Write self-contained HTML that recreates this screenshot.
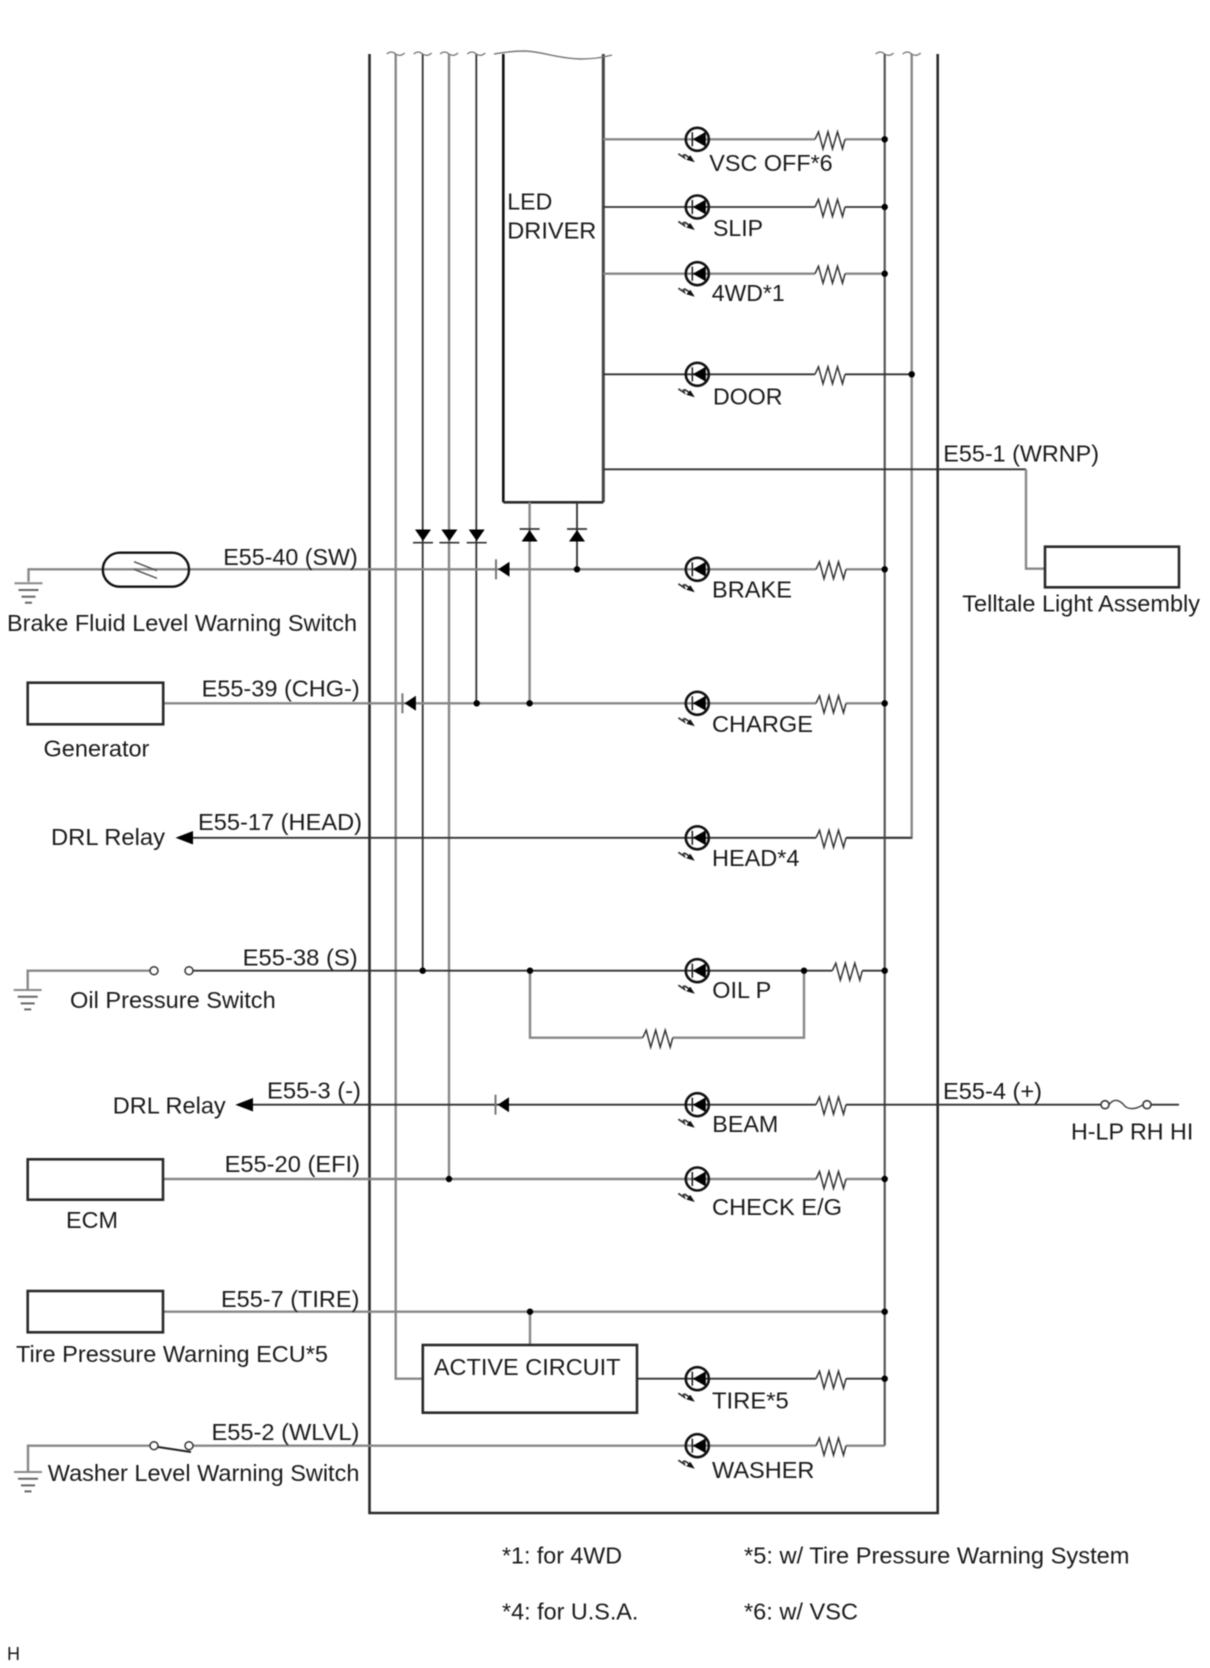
<!DOCTYPE html>
<html><head><meta charset="utf-8"><title>Combination meter circuit</title>
<style>
html,body{margin:0;padding:0;background:#fff}
svg{display:block;filter:blur(0.45px)}
text{font-family:"Liberation Sans",sans-serif;font-size:23px;fill:#1a1a1a}
.d{stroke:#333;stroke-width:1.8;fill:none}
.g{stroke:#888;stroke-width:2.4;fill:none}
.k{stroke:#2a2a2a;stroke-width:2.6;fill:none}
</style></head><body>
<svg xmlns="http://www.w3.org/2000/svg" width="1210" height="1668" viewBox="0 0 1210 1668">
<defs>
<g id="led">
<circle cx="0" cy="0" r="11.5" fill="none" stroke="#111" stroke-width="2.6"/>
<path d="M-4.5,0 L8.5,-7.5 L8.5,7.5 Z" fill="#000"/>
<path d="M-5,-7 V7" stroke="#222" stroke-width="1.6"/>
<path d="M-19,14.5 L-13,18.5 L-14,15 M-13,15 L-6,19.5" stroke="#333" stroke-width="1.7" fill="none"/>
<path d="M-2.5,23 L-11,20.5 L-7,16 Z" fill="#111"/>
</g>
<g id="res">
<path d="M0,0 H30" stroke="#fff" stroke-width="5"/>
<path d="M0,0 L3.5,-7.5 L8,9.5 L13,-7.5 L17.5,9.5 L22.5,-7.5 L27.5,9.5 L30,0" fill="none" stroke="#333" stroke-width="1.5"/>
</g>
<g id="wave"><path d="M-9,0 q4.5,-4 9,0 q4.5,3 9,-1" fill="none" stroke="#777" stroke-width="1.3"/></g>
<g id="gnd">
<path d="M-14,0 H14" stroke="#888" stroke-width="2"/>
<path d="M-10,6.7 H10" stroke="#666" stroke-width="2"/>
<path d="M-7,13.4 H7" stroke="#666" stroke-width="2"/>
<path d="M-3.5,19.4 H3.5" stroke="#666" stroke-width="2"/>
</g>
<g id="dn"><path d="M-8,0 H8 L0,11.5 Z" fill="#000"/><path d="M-10,13.2 H10" stroke="#333" stroke-width="1.7"/></g>
<g id="up"><path d="M-8,12.5 H8 L0,1 Z" fill="#000"/><path d="M-10,0 H10" stroke="#333" stroke-width="1.7"/></g>
<g id="lf"><path d="M2.2,0 L13.5,-7.5 V7.5 Z" fill="#000"/><path d="M0,-10 V10" stroke="#777" stroke-width="2"/></g>
</defs>

<!-- frame -->
<path class="k" d="M369.5,54 V1513 H937.7 V54"/>
<!-- LED driver -->
<path d="M503.3,54 V502.3" stroke="#111" stroke-width="2.6" fill="none"/>
<path d="M603.3,54 V502.3" stroke="#444" stroke-width="3" fill="none"/>
<path class="k" d="M503.3,502.3 H603.3"/>
<path d="M494,54 C505,52 515,51 525,51 C545,52 555,58 580,59 C595,59 605,57 612,55" fill="none" stroke="#777" stroke-width="1.4"/>

<!-- verticals -->
<path class="g" d="M395.7,54 V1378.7 H422.8"/>
<path class="d" d="M422.7,54 V970.7"/>
<path class="g" d="M449,54 V1179"/>
<path class="d" d="M476.3,54 V703.3"/>
<path class="g" d="M529.6,502.3 V703.3"/>
<path class="d" d="M577,502.3 V569.3"/>
<path class="d" d="M884.7,54 V1445.7" style="stroke-width:2.2;stroke:#555"/>
<path class="g" d="M911.7,54 V837.8 H816"/>
<use href="#wave" x="395.7" y="54"/><use href="#wave" x="422.7" y="54"/><use href="#wave" x="449" y="54"/><use href="#wave" x="476.3" y="54"/><use href="#wave" x="884.7" y="54"/><use href="#wave" x="911.7" y="54"/>

<!-- rows -->
<path class="g" d="M603.3,139.3 H884.7"/>
<path class="d" d="M603.3,207 H884.7"/>
<path class="g" d="M603.3,273.7 H884.7"/>
<path class="d" d="M603.3,374.3 H911.7"/>
<path class="d" d="M603.3,469.3 H1026"/>
<path class="g" d="M1026,469.3 V568.7 H1045"/>
<path class="g" d="M28.5,581.7 V569.3 H884.7"/>
<path class="g" d="M163.2,703.3 H884.7"/>
<path class="d" d="M190,837.8 H911.7"/>
<path class="g" d="M27.7,989 V970.7 H150.5"/>
<path class="d" d="M193,970.7 H884.7"/>
<path class="g" d="M530,970.7 V1037.7 H804 V970.7"/>
<path class="d" d="M250,1104.7 H1101"/>
<path class="d" d="M1151,1104.7 H1179"/>
<path class="g" d="M163,1179 H884.7"/>
<path class="g" d="M163,1311.7 H884.7"/>
<path class="g" d="M530,1311.7 V1345"/>
<path class="d" d="M637,1378.7 H884.7"/>
<path class="g" d="M28,1471 V1445.7 H150"/>
<path class="g" d="M193,1445.7 H884.7"/>

<!-- boxes -->
<rect class="k" x="27.7" y="682.7" width="135.5" height="41.6" style="fill:#fff"/>
<rect class="k" x="27.7" y="1159.3" width="135.3" height="40.4" style="fill:#fff"/>
<rect class="k" x="27.7" y="1291" width="135.3" height="41.3" style="fill:#fff"/>
<rect class="k" x="1045" y="546.7" width="134" height="40.6" style="fill:#fff"/>
<rect class="k" x="422.8" y="1345" width="214.2" height="67.7" style="fill:#fff"/>

<!-- brake switch -->
<rect x="102.8" y="552.7" width="86.2" height="34" rx="17" ry="17" fill="none" stroke="#111" stroke-width="2.4"/>
<path d="M134,561.7 L157,570.7 M134,569.3 L157,578.3" stroke="#555" stroke-width="1.5" fill="none"/>

<!-- grounds -->
<use href="#gnd" x="28.5" y="583.3"/>
<use href="#gnd" x="27.7" y="990"/>
<use href="#gnd" x="28" y="1472"/>

<!-- oil switch -->
<circle cx="154" cy="970.7" r="4" fill="#fff" stroke="#333" stroke-width="1.5"/>
<circle cx="189" cy="970.7" r="4" fill="#fff" stroke="#333" stroke-width="1.5"/>
<!-- washer switch -->
<circle cx="154" cy="1445.7" r="4" fill="#fff" stroke="#333" stroke-width="1.5"/>
<circle cx="189" cy="1445.7" r="4" fill="#fff" stroke="#333" stroke-width="1.5"/>
<path d="M158,1447 L191,1452" stroke="#222" stroke-width="2" fill="none"/>

<!-- H-LP fuse -->
<circle cx="1105" cy="1104.7" r="4" fill="#fff" stroke="#333" stroke-width="1.6"/>
<circle cx="1147" cy="1104.7" r="4" fill="#fff" stroke="#333" stroke-width="1.6"/>
<path d="M1109,1104.7 C1113,1099 1118,1099 1123,1104 C1127,1110 1135,1110 1143,1104.7" fill="none" stroke="#444" stroke-width="1.5"/>

<!-- arrows -->
<path d="M175.5,837.8 L193,831 V844.5 Z" fill="#000"/>
<path d="M235.3,1104.7 L253,1098 V1111.5 Z" fill="#000"/>

<!-- diodes -->
<use href="#dn" x="423" y="529.5"/><use href="#dn" x="449.4" y="529.5"/><use href="#dn" x="476.7" y="529.5"/>
<use href="#up" x="529.6" y="529"/><use href="#up" x="577" y="529"/>
<use href="#lf" x="496" y="569.3"/><use href="#lf" x="402.4" y="703.3"/><use href="#lf" x="495.5" y="1104.7"/>

<!-- LEDs -->
<use href="#led" x="697.3" y="139.3"/><use href="#led" x="697.3" y="207"/><use href="#led" x="697.3" y="273.7"/><use href="#led" x="697.3" y="374.3"/>
<use href="#led" x="697.3" y="569.3"/><use href="#led" x="697.3" y="703.3"/><use href="#led" x="697.3" y="837.8"/><use href="#led" x="697.3" y="970.7"/>
<use href="#led" x="697.3" y="1104.7"/><use href="#led" x="697.3" y="1179"/><use href="#led" x="697.3" y="1378.7"/><use href="#led" x="697.3" y="1445.7"/>

<!-- resistors -->
<use href="#res" x="815" y="139.3"/><use href="#res" x="815" y="207"/><use href="#res" x="815" y="273.7"/><use href="#res" x="815" y="374.3"/>
<use href="#res" x="816" y="569.3"/><use href="#res" x="816" y="703.3"/><use href="#res" x="816" y="837.8"/><use href="#res" x="832.3" y="970.7"/>
<use href="#res" x="642.7" y="1037.7"/><use href="#res" x="816" y="1104.7"/><use href="#res" x="816" y="1179"/><use href="#res" x="816" y="1378.7"/><use href="#res" x="816" y="1445.7"/>

<!-- dots -->
<g fill="#000">
<circle cx="884.7" cy="139.3" r="3.2"/><circle cx="884.7" cy="207" r="3.2"/><circle cx="884.7" cy="273.7" r="3.2"/><circle cx="911.7" cy="374.3" r="3.2"/>
<circle cx="577" cy="569.3" r="3.2"/><circle cx="884.7" cy="569.3" r="3.2"/>
<circle cx="476.7" cy="703.3" r="3.2"/><circle cx="529.6" cy="703.3" r="3.2"/><circle cx="884.7" cy="703.3" r="3.2"/>
<circle cx="422.7" cy="970.7" r="3.2"/><circle cx="530" cy="970.7" r="3.2"/><circle cx="804" cy="970.7" r="3.2"/><circle cx="884.7" cy="970.7" r="3.2"/>
<circle cx="449" cy="1179" r="3.2"/><circle cx="884.7" cy="1179" r="3.2"/>
<circle cx="530" cy="1311.7" r="3.2"/><circle cx="884.7" cy="1311.7" r="3.2"/><circle cx="884.7" cy="1378.7" r="3.2"/>
</g>

<!-- labels -->
<g>
<text x="507.3" y="209.5" textLength="45" lengthAdjust="spacingAndGlyphs">LED</text>
<text x="507.3" y="238.5" textLength="89" lengthAdjust="spacingAndGlyphs">DRIVER</text>
<text x="709.3" y="171" textLength="123.4" lengthAdjust="spacingAndGlyphs">VSC OFF*6</text>
<text x="713" y="236" textLength="50" lengthAdjust="spacingAndGlyphs">SLIP</text>
<text x="711.7" y="301" textLength="73" lengthAdjust="spacingAndGlyphs">4WD*1</text>
<text x="713" y="404.5" textLength="69.5" lengthAdjust="spacingAndGlyphs">DOOR</text>
<text x="943.3" y="461.7" textLength="155.7" lengthAdjust="spacingAndGlyphs">E55-1 (WRNP)</text>
<text x="962.3" y="611.7" textLength="237.7" lengthAdjust="spacingAndGlyphs">Telltale Light Assembly</text>
<text x="223.3" y="565" textLength="134.4" lengthAdjust="spacingAndGlyphs">E55-40 (SW)</text>
<text x="7" y="631" textLength="350" lengthAdjust="spacingAndGlyphs">Brake Fluid Level Warning Switch</text>
<text x="712" y="597.5" textLength="80" lengthAdjust="spacingAndGlyphs">BRAKE</text>
<text x="201.6" y="696.7" textLength="158.1" lengthAdjust="spacingAndGlyphs">E55-39 (CHG-)</text>
<text x="43.5" y="756.7" textLength="105.9" lengthAdjust="spacingAndGlyphs">Generator</text>
<text x="712" y="732" textLength="101" lengthAdjust="spacingAndGlyphs">CHARGE</text>
<text x="51" y="845" textLength="114" lengthAdjust="spacingAndGlyphs">DRL Relay</text>
<text x="198" y="830" textLength="164" lengthAdjust="spacingAndGlyphs">E55-17 (HEAD)</text>
<text x="712" y="866" textLength="87.5" lengthAdjust="spacingAndGlyphs">HEAD*4</text>
<text x="242.7" y="965.5" textLength="115" lengthAdjust="spacingAndGlyphs">E55-38 (S)</text>
<text x="70" y="1008" textLength="205.7" lengthAdjust="spacingAndGlyphs">Oil Pressure Switch</text>
<text x="712.3" y="998" textLength="59" lengthAdjust="spacingAndGlyphs">OIL P</text>
<text x="712.3" y="1132" textLength="66" lengthAdjust="spacingAndGlyphs">BEAM</text>
<text x="112.8" y="1113.5" textLength="112.9" lengthAdjust="spacingAndGlyphs">DRL Relay</text>
<text x="267" y="1098.5" textLength="94" lengthAdjust="spacingAndGlyphs">E55-3 (-)</text>
<text x="943" y="1099" textLength="99" lengthAdjust="spacingAndGlyphs">E55-4 (+)</text>
<text x="1071" y="1139.5" textLength="122.3" lengthAdjust="spacingAndGlyphs">H-LP RH HI</text>
<text x="224.6" y="1172" textLength="135.4" lengthAdjust="spacingAndGlyphs">E55-20 (EFI)</text>
<text x="66" y="1228" textLength="52" lengthAdjust="spacingAndGlyphs">ECM</text>
<text x="712" y="1215" textLength="130" lengthAdjust="spacingAndGlyphs">CHECK E/G</text>
<text x="221" y="1307" textLength="138.4" lengthAdjust="spacingAndGlyphs">E55-7 (TIRE)</text>
<text x="16" y="1362" textLength="312" lengthAdjust="spacingAndGlyphs">Tire Pressure Warning ECU*5</text>
<text x="433.9" y="1375" textLength="186.6" lengthAdjust="spacingAndGlyphs">ACTIVE CIRCUIT</text>
<text x="712" y="1408.5" textLength="76.8" lengthAdjust="spacingAndGlyphs">TIRE*5</text>
<text x="211.5" y="1440" textLength="147.9" lengthAdjust="spacingAndGlyphs">E55-2 (WLVL)</text>
<text x="47.8" y="1481" textLength="311.6" lengthAdjust="spacingAndGlyphs">Washer Level Warning Switch</text>
<text x="712" y="1478" textLength="102.4" lengthAdjust="spacingAndGlyphs">WASHER</text>
<text x="502" y="1563.3" textLength="120" lengthAdjust="spacingAndGlyphs">*1: for 4WD</text>
<text x="502" y="1619.3" textLength="136.4" lengthAdjust="spacingAndGlyphs">*4: for U.S.A.</text>
<text x="744" y="1563.3" textLength="385.5" lengthAdjust="spacingAndGlyphs">*5: w/ Tire Pressure Warning System</text>
<text x="744" y="1619.3" textLength="114" lengthAdjust="spacingAndGlyphs">*6: w/ VSC</text>
<text x="7" y="1660" textLength="13" lengthAdjust="spacingAndGlyphs" style="font-size:18px">H</text>
</g>
</svg>
</body></html>
